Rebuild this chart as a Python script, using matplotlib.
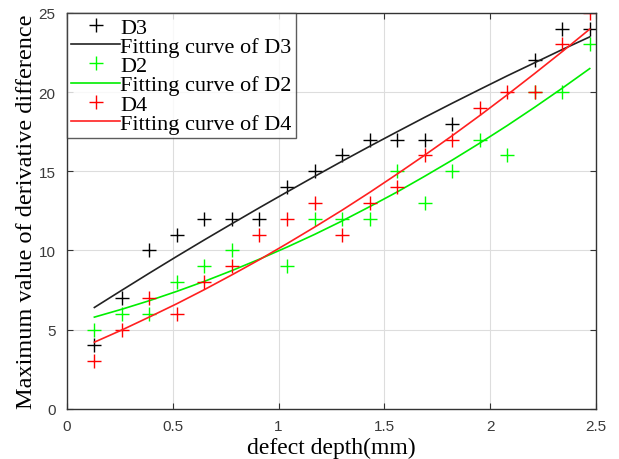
import numpy as np
import matplotlib.pyplot as plt

# defect depth (mm)
depth = [0.13, 0.26, 0.39, 0.52, 0.65, 0.78, 0.91, 1.04, 1.17, 1.30,
         1.43, 1.56, 1.69, 1.82, 1.95, 2.08, 2.21, 2.34, 2.47]

nan = np.nan
d3 = [4, 7, 10, 11, 12, 12, 12, 14, 15, 16, 17, 17, 17, 18, nan, nan, 22, 24, 24]
d2 = [5, 6, 6, 8, 9, 10, nan, 9, 12, 12, 12, 15, 13, 15, 17, 16, 20, 20, 23]
d4 = [3, 5, 7, 6, 8, 9, 11, 12, 13, 11, 13, 14, 16, 17, 19, 20, 20, 23, 25]

# fitted curves at each depth
fit_d3 = [6.40, 7.49, 8.57, 9.63, 10.67, 11.69, 12.70, 13.69, 14.67, 15.63,
          16.57, 17.49, 18.40, 19.29, 20.16, 21.02, 21.85, 22.68, 23.48]
fit_d2 = [5.79, 6.29, 6.83, 7.42, 8.05, 8.73, 9.45, 10.21, 11.01, 11.86,
          12.76, 13.69, 14.68, 15.70, 16.77, 17.88, 19.04, 20.24, 21.48]
fit_d4 = [4.21, 4.98, 5.80, 6.64, 7.53, 8.46, 9.42, 10.43, 11.47, 12.54,
          13.66, 14.82, 16.01, 17.24, 18.51, 19.82, 21.17, 22.55, 23.97]

fig = plt.figure(figsize=(6.19, 4.60), dpi=100)
ax = fig.add_axes([0.108, 0.109, 0.855, 0.861])

ms = 10
ax.plot(depth, d3, '+', color='black', ms=ms, mew=1.0, label='D3')
ax.plot(depth, fit_d3, '-', color='#222222', lw=1.2, label='Fitting curve of D3')
ax.plot(depth, d2, '+', color='#00ff00', ms=ms, mew=1.0, label='D2')
ax.plot(depth, fit_d2, '-', color='#00ee00', lw=1.2, label='Fitting curve of D2')
ax.plot(depth, d4, '+', color='#ff0000', ms=ms, mew=1.0, label='D4')
ax.plot(depth, fit_d4, '-', color='#ff2020', lw=1.2, label='Fitting curve of D4')

ax.set_xlim(0, 2.5)
ax.set_ylim(0, 25)
ax.set_xticks([0, 0.5, 1, 1.5, 2, 2.5])
ax.set_xticklabels(['0', '0.5', '1', '1.5', '2', '2.5'])
ax.set_yticks([0, 5, 10, 15, 20, 25])
ax.grid(True, color='#dddddd', lw=0.8)
ax.set_axisbelow(True)
ax.tick_params(direction='in', top=True, right=True, length=4, width=0.8,
               colors='#333333', labelsize=11, labelcolor='#3a3a3a')
ax.tick_params(axis='x', pad=7)
ax.tick_params(axis='y', pad=8)
for lab in ax.get_xticklabels() + ax.get_yticklabels():
    lab.set_family('Liberation Sans')
for sp in ax.spines.values():
    sp.set_color('#333333')
    sp.set_linewidth(1.0)

ax.set_xlabel('defect depth(mm)', family='Liberation Serif', fontsize=17, labelpad=3)
ax.set_ylabel('Maximum value of derivative difference', family='Liberation Serif',
              fontsize=17.5, labelpad=1)

leg = ax.legend(loc='upper left', prop={'family': 'Liberation Serif', 'size': 16},
                frameon=True, fancybox=False, borderaxespad=0, borderpad=0.2,
                labelspacing=-0.06, handlelength=2.2, handletextpad=0.0)
leg.get_frame().set_edgecolor('#333333')
leg.get_frame().set_linewidth(1.0)

fig.savefig('out.png', dpi=100)
